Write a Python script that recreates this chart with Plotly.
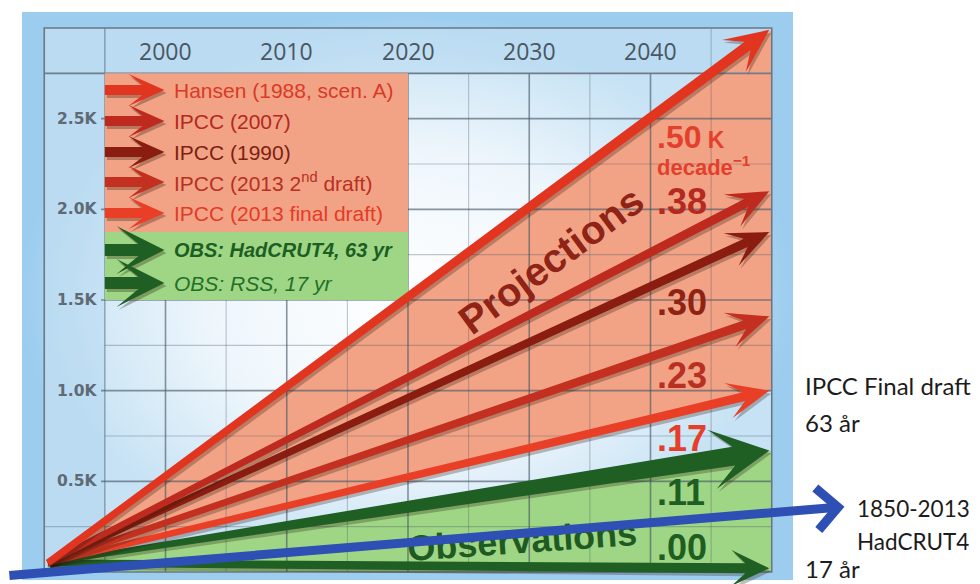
import math
import plotly.graph_objects as go

# ---------------- data ----------------
year_ticks = [2000, 2010, 2020, 2030, 2040]
year_tick_labels = ["2000", "2010", "2020", "2030", "2040"]
k_ticks = [0.5, 1.0, 1.5, 2.0, 2.5]
k_tick_labels = ["0.5K", "1.0K", "1.5K", "2.0K", "2.5K"]

series_names = [
    "Hansen (1988, scen. A)",
    "IPCC (2007)",
    "IPCC (1990)",
    "IPCC (2013 2<sup>nd</sup> draft)",
    "IPCC (2013 final draft)",
    "OBS: HadCRUT4, 63 yr",
    "OBS: RSS, 17 yr",
]
rate_labels = [".50", ".38", ".30", ".23", ".17", ".11", ".00"]
trend_start_year = 1990.3
trend_start_value = 0.05
trend_end_year = 2049.8
trend_end_values = [2.99, 2.10, 1.875, 1.41, 1.00, 0.67, 0.02]

blue_trend_years = [1987.0, 2056.0]
blue_trend_values = [-0.02, 0.36]

side_notes = ["IPCC Final draft", "63 år", "1850-2013", "HadCRUT4", "17 år"]

# ---------------- styles ----------------
series_colors = ["#e2351f", "#bf2a1e", "#8a1d10", "#c3301f", "#ea3f27", "#1f5f24", "#1f5f24"]
legend_text_colors = ["#d93a26", "#b3291d", "#7d1f12", "#b8301f", "#e33b26", "#1d5e22", "#227028"]
rate_colors = ["#e3402c", "#b52a20", "#8e2314", "#b83024", "#e53e2a", "#1f5e23", "#1f5e23"]
SALMON = "#f2a386"
GREEN = "#9fd685"
BLUE = "#2e4fb4"

# page offset (default body margin of the html page)
PAGE_OFF = 8
W, H = 980, 584                     # reference picture size
FIG_W, FIG_H = W - PAGE_OFF, H - PAGE_OFF

x_min, x_max = 1990, 2050
k_min, k_max = 0.0, 3.0
header_k = 2.75
label_col_year = 1995
# box geometry in reference-picture pixels
BOX_L, BOX_R, BOX_T, BOX_B = 44.25, 771.75, 28.0, 572.0
ppx = (BOX_R - BOX_L) / (x_max - x_min)
ppk = (BOX_B - BOX_T) / (k_max - k_min)
XR = [x_min - (BOX_L - PAGE_OFF) / ppx, x_min + (W - BOX_L) / ppx]
YR = [k_min - (H - BOX_B) / ppk, k_min + (BOX_B - PAGE_OFF) / ppk]


def d2p(x, k):
    return (BOX_L + (x - x_min) * ppx, BOX_B - (k - k_min) * ppk)


def p2d(px, py):
    return (x_min + (px - BOX_L) / ppx, k_min + (BOX_B - py) / ppk)


def arrow_pts(p0, p1, w0, w1, hl, hw, notch):
    (sx, sy), (tx, ty) = p0, p1
    dx, dy = tx - sx, ty - sy
    L = math.hypot(dx, dy)
    ux, uy = dx / L, dy / L
    nx, ny = -uy, ux
    bx, by = tx - hl * ux, ty - hl * uy
    mx, my = tx - notch * ux, ty - notch * uy
    return [
        (sx + nx * w0 / 2, sy + ny * w0 / 2),
        (mx + nx * w1 / 2, my + ny * w1 / 2),
        (bx + nx * hw, by + ny * hw),
        (tx, ty),
        (bx - nx * hw, by - ny * hw),
        (mx - nx * w1 / 2, my - ny * w1 / 2),
        (sx - nx * w0 / 2, sy - ny * w0 / 2),
    ]


def path_px(pts, ox=0.0, oy=0.0):
    parts = []
    for i, (px, py) in enumerate(pts):
        x, k = p2d(px + ox, py + oy)
        parts.append(("M" if i == 0 else "L") + f"{x:.4f},{k:.4f}")
    return " ".join(parts) + " Z"


def path_data(pts):
    parts = []
    for i, (x, k) in enumerate(pts):
        parts.append(("M" if i == 0 else "L") + f"{x:.4f},{k:.4f}")
    return " ".join(parts) + " Z"


fig = go.Figure()

# ---- background gradients (traces, below all shapes) ----
ox0, oy0 = p2d(22, 580)
ox1, oy1 = p2d(793, 12)
fig.add_trace(go.Scatter(
    x=[ox0, ox1, ox1, ox0, ox0], y=[oy0, oy0, oy1, oy1, oy0],
    fill="toself", mode="lines", line=dict(width=0),
    fillgradient=dict(type="radial", colorscale=[[0, "#e3f1fb"], [0.7, "#c4e2f5"], [1, "#9ccdef"]]),
    hoverinfo="skip", showlegend=False))
fig.add_trace(go.Scatter(
    x=[x_min, x_max, x_max, x_min, x_min], y=[k_min, k_min, k_max, k_max, k_min],
    fill="toself", mode="lines", line=dict(width=0),
    fillgradient=dict(type="radial", colorscale=[[0, "#ffffff"], [0.55, "#eef6fc"], [1, "#c6e2f4"]]),
    hoverinfo="skip", showlegend=False))

shapes = []
# header band & label column tint
shapes.append(dict(type="rect", xref="x", yref="y", x0=x_min, x1=x_max, y0=header_k, y1=k_max,
                   fillcolor="rgba(150,200,235,0.25)", line=dict(width=0)))
shapes.append(dict(type="rect", xref="x", yref="y", x0=x_min, x1=label_col_year, y0=k_min, y1=header_k,
                   fillcolor="rgba(150,200,235,0.25)", line=dict(width=0)))

# projection & observation wedges
origin = (trend_start_year, trend_start_value)
shapes.append(dict(type="path", xref="x", yref="y", fillcolor=SALMON, line=dict(width=0),
                   path=path_data([origin, (x_max, trend_end_values[0]), (x_max, trend_end_values[4])])))
shapes.append(dict(type="path", xref="x", yref="y", fillcolor=GREEN, line=dict(width=0),
                   path=path_data([origin, (x_max, trend_end_values[5]), (x_max, k_min), (trend_start_year, k_min)])))

# grid
DARK = "rgba(70,85,100,0.62)"
LIGHT = "rgba(70,85,100,0.33)"
for i in range(1, 12):
    yr = x_min + 5 * i
    if yr >= x_max:
        break
    dark = (yr % 10 == 0)
    top = k_max if yr in (label_col_year, 2045) else header_k
    shapes.append(dict(type="line", xref="x", yref="y", x0=yr, x1=yr, y0=k_min, y1=top,
                       line=dict(color=DARK if dark or yr == label_col_year else LIGHT,
                                 width=1.6 if dark else 1.1)))
for i in range(1, 11):
    kk = 0.25 * i
    dark = abs(kk * 2 - round(kk * 2)) < 1e-9
    x_start = p2d(101, 0)[0] if dark else (x_min if i == 1 else label_col_year)
    shapes.append(dict(type="line", xref="x", yref="y", x0=x_start, x1=x_max, y0=kk, y1=kk,
                       line=dict(color=DARK if dark else LIGHT, width=1.6 if dark else 1.1)))
shapes.append(dict(type="line", xref="x", yref="y", x0=x_min, x1=x_max, y0=header_k, y1=header_k,
                   line=dict(color="#6f7d89", width=1.6)))
shapes.append(dict(type="rect", xref="x", yref="y", x0=x_min, x1=x_max, y0=k_min, y1=k_max,
                   line=dict(color="#6b7884", width=1.6)))

# legend boxes
legend_split_k = 1.875
shapes.append(dict(type="rect", xref="x", yref="y", x0=label_col_year, x1=2020, y0=legend_split_k, y1=header_k,
                   fillcolor=SALMON, line=dict(width=0)))
shapes.append(dict(type="rect", xref="x", yref="y", x0=label_col_year, x1=2020, y0=1.5, y1=legend_split_k,
                   fillcolor=GREEN, line=dict(width=0)))

# legend arrows
legend_rows_px = [90, 121, 152, 182, 213, 250, 283]
lx0 = d2p(label_col_year, 0)[0]
lx1 = d2p(2000, 0)[0] - 1
for i, ry in enumerate(legend_rows_px):
    if i < 5:
        pts = arrow_pts((lx0, ry), (lx1, ry), 10, 10, 36, 16, 22)
    else:
        pts = arrow_pts((lx0, ry), (lx1, ry), 12, 12, 48, 24, 26)
    shapes.append(dict(type="path", xref="x", yref="y", fillcolor="rgba(40,20,10,0.30)", line=dict(width=0),
                       path=path_px(pts, 2, 3)))
    shapes.append(dict(type="path", xref="x", yref="y", fillcolor=series_colors[i], line=dict(width=0),
                       path=path_px(pts)))

# main trend arrows (observations first, then projections on top)
arrow_style = {
    0: (7, 10, 44, 20, 27),
    1: (6, 9, 42, 18, 26),
    2: (6, 9, 42, 18, 26),
    3: (6, 9, 42, 18, 26),
    4: (6, 9, 42, 18, 26),
    5: (4, 19, 58, 30, 36),
    6: (7, 10, 38, 18, 24),
}
p_origin = d2p(trend_start_year, trend_start_value)
for i in [6, 5, 4, 3, 2, 1, 0]:
    w0, w1, hl, hw, notch = arrow_style[i]
    p_tip = d2p(trend_end_year, trend_end_values[i])
    pts = arrow_pts(p_origin, p_tip, w0, w1, hl, hw, notch)
    shapes.append(dict(type="path", xref="x", yref="y", fillcolor="rgba(40,20,10,0.28)", line=dict(width=0),
                       path=path_px(pts, 2, 3)))
    shapes.append(dict(type="path", xref="x", yref="y", fillcolor=series_colors[i], line=dict(width=0),
                       path=path_px(pts)))

# ---------------- annotations ----------------
ann = []
for yv, lab in zip(year_ticks, year_tick_labels):
    ann.append(dict(x=yv, y=(header_k + k_max) / 2, text=lab, showarrow=False, xanchor="center", yanchor="middle",
                    font=dict(family="Open Sans, DejaVu Sans, sans-serif", size=23, color="#4a5661")))
for kv, lab in zip(k_ticks, k_tick_labels):
    ann.append(dict(x=p2d(99, 0)[0], y=kv, text=lab, showarrow=False, xanchor="right", yanchor="middle",
                    font=dict(family="DejaVu Sans, sans-serif", size=15.5, color="#5e6a74", weight="bold")))

SANS = "Liberation Sans, Arial, sans-serif"
legend_text_x = p2d(172, 0)[0]
for i, (name, ry) in enumerate(zip(series_names, legend_rows_px)):
    style = "normal" if i < 5 else "italic"
    weight = "bold" if i == 5 else "normal"
    size = 20 if i == 5 else 21
    ann.append(dict(x=legend_text_x, y=p2d(0, ry)[1], text=name, showarrow=False, xanchor="left", yanchor="middle",
                    font=dict(family=SANS, size=size, color=legend_text_colors[i], style=style, weight=weight)))

# rate labels
rate_label_px_y = [137, 201, 302, 375, 438, 492, 547]
rate_x = p2d(655, 0)[0]
for i, (lab, ry) in enumerate(zip(rate_labels, rate_label_px_y)):
    if i == 0:
        txt = lab + "<span style='font-size:23px'> K</span>"
        size = 32
    else:
        txt = lab
        size = 36
    ann.append(dict(x=rate_x, y=p2d(0, ry)[1], text=txt, showarrow=False, xanchor="left", yanchor="middle",
                    font=dict(family=SANS, size=size, color=rate_colors[i], weight="bold")))
ann.append(dict(x=rate_x, y=p2d(0, 166)[1], text="decade<sup>−1</sup>", showarrow=False, xanchor="left",
                yanchor="middle",
                font=dict(family=SANS, size=22, color=rate_colors[0], weight="bold")))

# big labels
px_, py_ = p2d(551, 260)
ann.append(dict(x=px_, y=py_, text="Projections", showarrow=False, textangle=-36.5, xanchor="center",
                yanchor="middle", font=dict(family=SANS, size=40, color="#8f2416", weight="bold")))
px_, py_ = p2d(522, 540)
ann.append(dict(x=px_, y=py_, text="Observations", showarrow=False, textangle=-4, xanchor="center",
                yanchor="middle", font=dict(family=SANS, size=36, color="#1f5a22", weight="bold")))

# blue trend arrow (drawn over the text)
ann.append(dict(x=blue_trend_years[1], y=blue_trend_values[1], ax=blue_trend_years[0], ay=blue_trend_values[0],
                xref="x", yref="y", axref="x", ayref="y", text="", showarrow=True, arrowhead=4,
                arrowsize=0.9, arrowwidth=9, arrowcolor=BLUE))

# side notes
side_pos = [(803, 385), (803, 422), (855, 508), (855, 541), (803, 568)]
side_sizes = [24, 24, 22.5, 22.5, 24]
for txt, (sx, sy), sz in zip(side_notes, side_pos, side_sizes):
    xx, yy = p2d(sx, sy)
    ann.append(dict(x=xx, y=yy, text=txt, showarrow=False, xanchor="left", yanchor="middle",
                    font=dict(family="Lato, Open Sans, sans-serif", size=sz, color="#1c1c1c")))

fig.update_layout(
    width=FIG_W, height=FIG_H, autosize=False,
    margin=dict(l=0, r=0, t=0, b=0, pad=0),
    paper_bgcolor="white", plot_bgcolor="white",
    xaxis=dict(range=XR, visible=False, showgrid=False, zeroline=False, fixedrange=True),
    yaxis=dict(range=YR, visible=False, showgrid=False, zeroline=False, fixedrange=True),
    shapes=shapes, annotations=ann, showlegend=False,
)
fig.write_html("out.html")
